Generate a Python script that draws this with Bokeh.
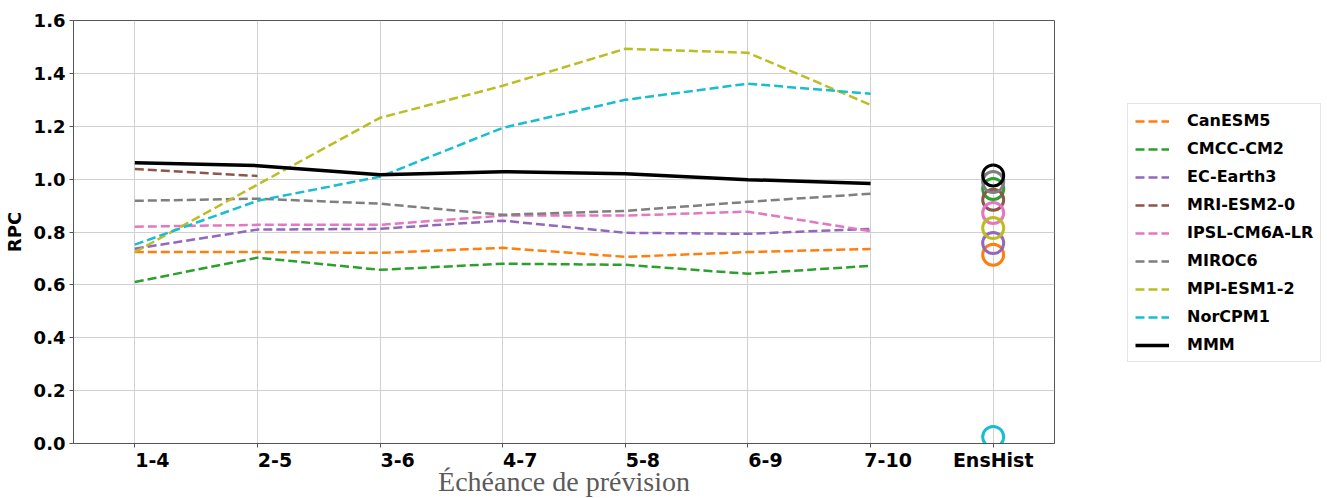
from bokeh.plotting import figure
from bokeh.models import Legend, LegendItem, FixedTicker, NumeralTickFormatter, Range1d
from bokeh.embed import file_html
from bokeh.resources import INLINE

categories = ["1-4", "2-5", "3-6", "4-7", "5-8", "6-9", "7-10", "EnsHist"]
models = ["CanESM5", "CMCC-CM2", "EC-Earth3", "MRI-ESM2-0", "IPSL-CM6A-LR",
          "MIROC6", "MPI-ESM1-2", "NorCPM1", "MMM"]
colors = ["#ff7f0e", "#2ca02c", "#9467bd", "#8c564b", "#e377c2",
          "#7f7f7f", "#bcbd22", "#17becf", "#000000"]

canesm5 = [0.724, 0.724, 0.721, 0.740, 0.706, 0.724, 0.736]
cmcc = [0.611, 0.703, 0.657, 0.680, 0.676, 0.642, 0.672]
ecearth = [0.737, 0.809, 0.812, 0.843, 0.797, 0.793, 0.812]
mri = [1.038, 1.012]
ipsl = [0.820, 0.827, 0.827, 0.862, 0.862, 0.877, 0.803]
miroc = [0.918, 0.926, 0.907, 0.865, 0.880, 0.914, 0.945]
mpi = [0.724, 0.979, 1.232, 1.353, 1.493, 1.478, 1.281]
norcpm = [0.752, 0.918, 1.009, 1.194, 1.300, 1.361, 1.323]
mmm = [1.062, 1.051, 1.017, 1.028, 1.020, 0.998, 0.983]
series = [canesm5, cmcc, ecearth, mri, ipsl, miroc, mpi, norcpm, mmm]

# EnsHist values per model (same order as models)
enshist = [0.714, 0.963, 0.758, 0.922, 0.872, 0.989, 0.815, 0.025, 1.014]

yticks = [0.0, 0.2, 0.4, 0.6, 0.8, 1.0, 1.2, 1.4, 1.6]

p = figure(frame_width=981, frame_height=423, output_backend="svg",
           toolbar_location=None, x_range=Range1d(-0.5, 7.5), y_range=Range1d(0, 1.6),
           min_border_left=10, min_border_top=20, min_border_right=0, min_border_bottom=0)
p.background_fill_color = "white"
p.outline_line_color = "#555555"
p.outline_line_width = 1

items = []
for name, vals, col in zip(models, series, colors):
    xs = list(range(len(vals)))
    if name == "MMM":
        r = p.line(xs, vals, line_color=col, line_width=3.5)
    else:
        r = p.line(xs, vals, line_color=col, line_width=2.5, line_dash="9 4")
    items.append(LegendItem(label=name, renderers=[r]))

for name, v, col in zip(models, enshist, colors):
    p.scatter([7], [v], size=21, fill_color=None, line_color=col, line_width=3)

# tick marks / grid at category positions; labels of the forecast ranges sit slightly right
tick_pos = list(range(len(categories)))
shift = 0.143
label_pos = [i + shift for i in range(len(categories) - 1)] + [len(categories) - 1]
p.xaxis.ticker = FixedTicker(ticks=label_pos, minor_ticks=tick_pos)
p.xaxis.major_label_overrides = {lp: c for lp, c in zip(label_pos, categories)}
p.xgrid.ticker = FixedTicker(ticks=tick_pos)
p.xaxis.major_tick_line_color = None
p.xaxis.minor_tick_line_color = "#555555"
p.xaxis.minor_tick_out = 4
p.xaxis.minor_tick_in = 0

p.yaxis.ticker = FixedTicker(ticks=yticks)
p.yaxis.formatter = NumeralTickFormatter(format="0.0")
p.yaxis.major_tick_line_color = "#555555"
p.yaxis.major_tick_out = 4
p.yaxis.major_tick_in = 0
p.yaxis.minor_tick_line_color = None

for ax in (p.xaxis, p.yaxis):
    ax.major_label_text_font = "DejaVu Sans"
    ax.major_label_text_font_style = "bold"
    ax.major_label_text_color = "black"
    ax.axis_line_color = "#555555"

p.xaxis.major_label_text_font_size = "19px"
p.yaxis.major_label_text_font_size = "18px"
p.xaxis.major_label_standoff = -1
p.yaxis.major_label_standoff = 4
p.yaxis.axis_label = "RPC"
p.yaxis.axis_label_text_font = "DejaVu Sans"
p.yaxis.axis_label_text_font_style = "bold"
p.yaxis.axis_label_text_font_size = "18px"
p.yaxis.axis_label_text_color = "black"
p.yaxis.axis_label_standoff = 6

p.xaxis.axis_label = "Échéance de prévision"
p.xaxis.axis_label_text_font = "Liberation Serif"
p.xaxis.axis_label_text_font_style = "normal"
p.xaxis.axis_label_text_font_size = "28px"
p.xaxis.axis_label_text_color = "#5a5a5a"
p.xaxis.axis_label_standoff = -8

p.xgrid.grid_line_color = "#d0d0d0"
p.ygrid.grid_line_color = "#d0d0d0"
p.xgrid.grid_line_width = 1
p.ygrid.grid_line_width = 1

legend = Legend(items=items, location=(73, 81))
legend.label_text_font = "DejaVu Sans"
legend.label_text_font_style = "bold"
legend.label_text_font_size = "16px"
legend.label_text_color = "black"
legend.glyph_width = 34
legend.glyph_height = 16
legend.label_height = 16
legend.label_standoff = 18
legend.spacing = 9
legend.padding = 7
legend.margin = 39
legend.border_line_color = "#cccccc"
legend.border_line_width = 1
legend.background_fill_alpha = 1
p.add_layout(legend, "right")

open("out.html", "w").write(file_html(p, INLINE))
